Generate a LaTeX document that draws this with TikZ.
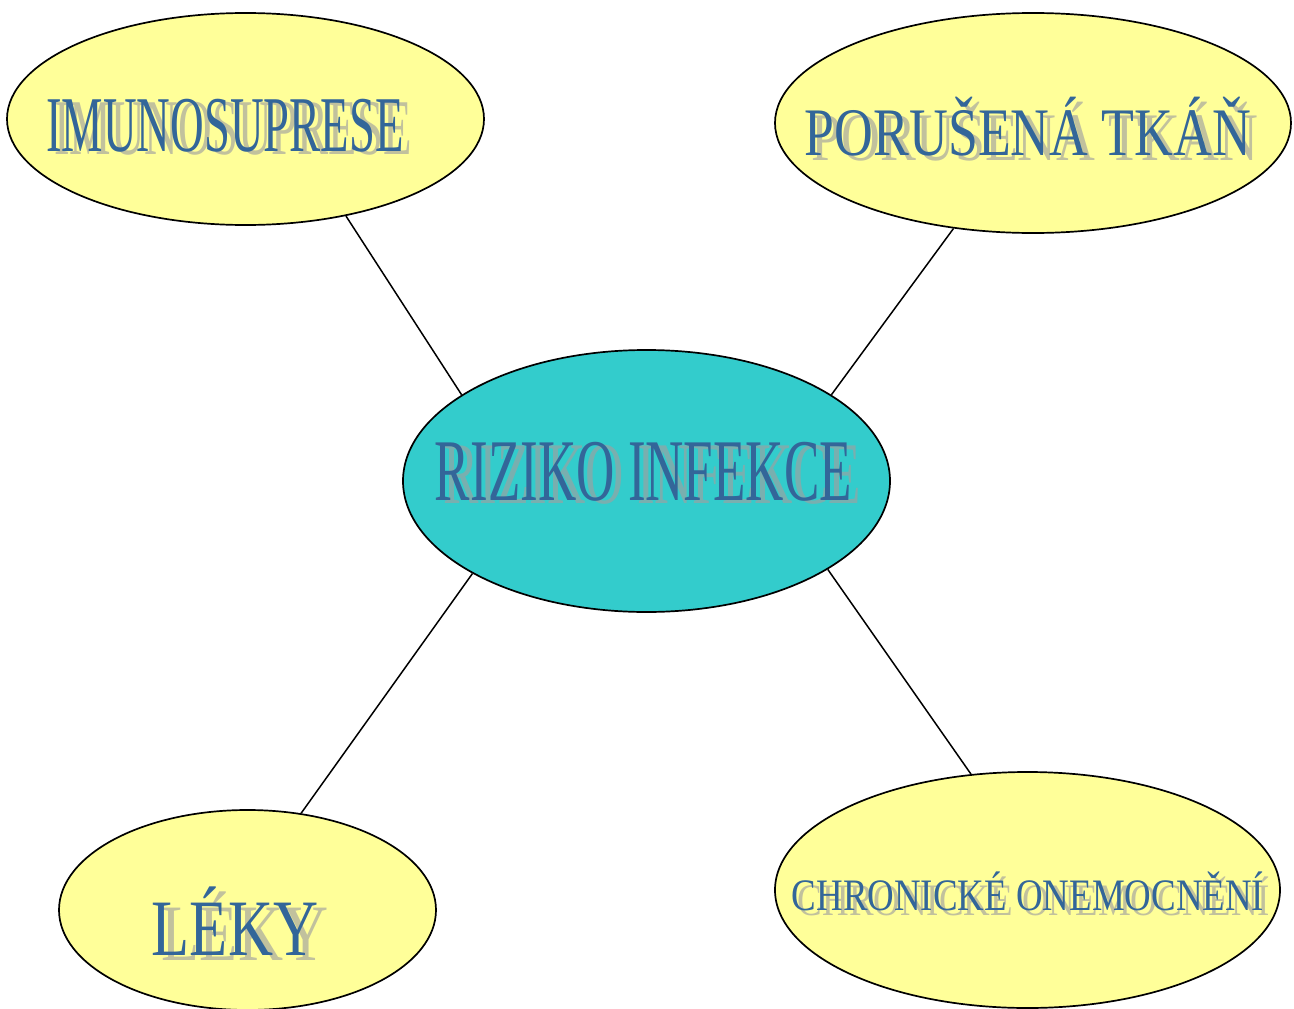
\documentclass[tikz,border=0pt]{standalone}
\usepackage{fontspec}
\usepackage{graphicx}
\setmainfont{Liberation Serif}
\usetikzlibrary{shapes.geometric}

\definecolor{bubblefill}{HTML}{FFFF99}
\definecolor{corefill}{HTML}{33CCCC}
\definecolor{ink}{HTML}{336699}
\definecolor{shade}{HTML}{A0A0A0}

\tikzset{
  bubble/.style={ellipse, draw=black, line width=1.7pt, inner sep=0pt, fill=bubblefill},
  core/.style={bubble, fill=corefill},
  link/.style={draw=black, line width=1.5pt},
  word/.style={anchor=base, inner sep=0pt, text=ink},
  wordshade/.style={anchor=base, inner sep=0pt, text=shade, text opacity=0.65},
}

% #1 name, #2 x, #3 baseline y, #4 size, #5 horizontal squeeze,
% #6 shadow dx, #7 shadow dy, #8 text
\newcommand\shadowword[8]{%
  \node[wordshade] (#1-shade) at (#2+#6,#3+#7)
    {\fontsize{#4}{#4}\selectfont\scalebox{#5}[1]{#8}};
  \node[word] (#1) at (#2,#3)
    {\fontsize{#4}{#4}\selectfont\scalebox{#5}[1]{#8}};
}

\begin{document}
\begin{tikzpicture}[x=1pt,y=-1pt]
  \useasboundingbox[fill=white] (0,0) rectangle (1294,1009);

  % bubbles
  \node[bubble, minimum width=477pt, minimum height=212pt] (imuno) at (245.5,119) {};
  \node[bubble, minimum width=516pt, minimum height=220pt] (tkan) at (1033,123) {};
  \node[core,   minimum width=487pt, minimum height=262pt] (riziko) at (646.5,481) {};
  \node[bubble, minimum width=377pt, minimum height=200pt] (leky) at (247.5,910) {};
  \node[bubble, minimum width=505pt, minimum height=236pt] (chron) at (1027.5,890) {};

  % connectors
  \draw[link] (imuno.-44) -- (riziko.155.15);
  \draw[link] (tkan.233.3) -- (riziko.25.5);
  \draw[link] (riziko.208.8) -- (leky.61.6);
  \draw[link] (riziko.334) -- (chron.116.4);

  % labels
  \shadowword{t-imuno}{225}{151}{79}{0.59}{8}{3}{IMUNOSUPRESE}
  \shadowword{t-tkan}{1028}{155}{68}{0.79}{7}{5}{PORUŠENÁ TKÁŇ}
  \shadowword{t-riziko}{643.5}{500}{88}{0.603}{9}{3}{RIZIKO INFEKCE}
  \shadowword{t-leky}{235}{955}{80}{0.78}{10}{5}{LÉKY}
  \shadowword{t-chron}{1028}{910}{45}{0.82}{6}{5}{CHRONICKÉ ONEMOCNĚNÍ}
\end{tikzpicture}
\end{document}
